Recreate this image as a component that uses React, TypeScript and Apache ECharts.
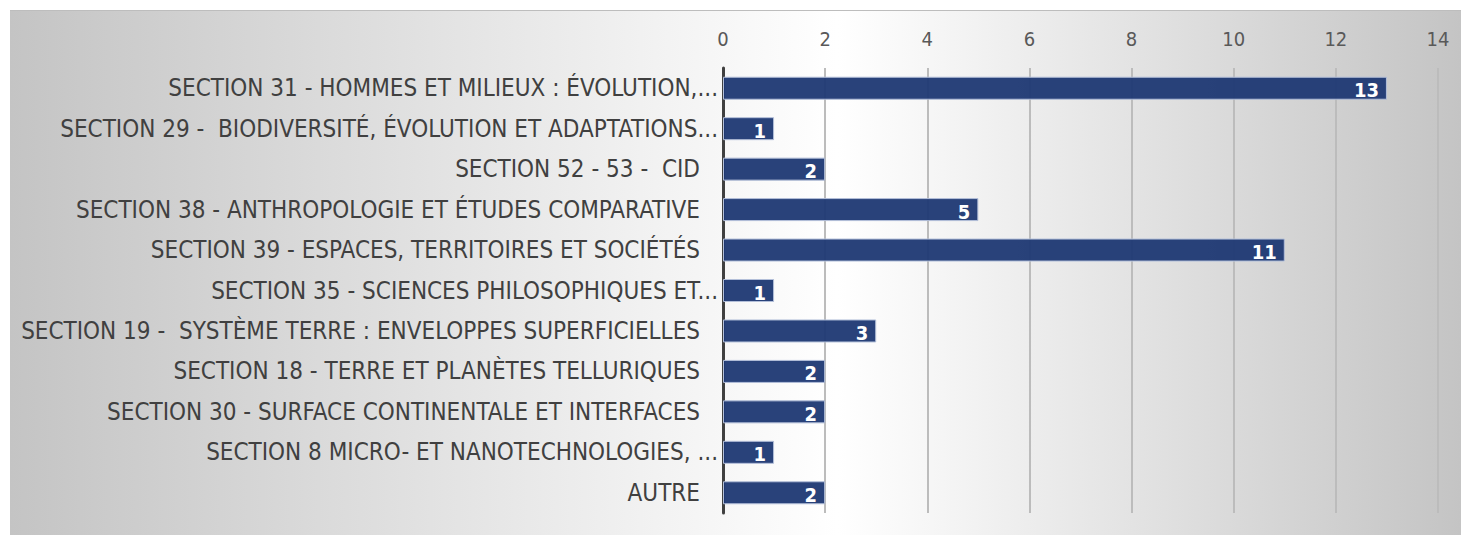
import React, { useEffect, useRef } from "react";
import * as echarts from "echarts";

const categories = [
  "SECTION 31 - HOMMES ET MILIEUX : ÉVOLUTION,...",
  "SECTION 29 -  BIODIVERSITÉ, ÉVOLUTION ET ADAPTATIONS...",
  "SECTION 52 - 53 -  CID",
  "SECTION 38 - ANTHROPOLOGIE ET ÉTUDES COMPARATIVE",
  "SECTION 39 - ESPACES, TERRITOIRES ET SOCIÉTÉS",
  "SECTION 35 - SCIENCES PHILOSOPHIQUES ET...",
  "SECTION 19 -  SYSTÈME TERRE : ENVELOPPES SUPERFICIELLES",
  "SECTION 18 - TERRE ET PLANÈTES TELLURIQUES",
  "SECTION 30 - SURFACE CONTINENTALE ET INTERFACES",
  "SECTION 8 MICRO- ET NANOTECHNOLOGIES, ...",
  "AUTRE",
];
const values = [13, 1, 2, 5, 11, 1, 3, 2, 2, 1, 2];
const axisMin = 0;
const axisMax = 14;
const axisInterval = 2;

const FONT = "'DejaVu Sans Condensed', 'Liberation Sans Narrow', sans-serif";

export default function App() {
  const ref = useRef<HTMLDivElement>(null);
  useEffect(() => {
    if (!ref.current) return;
    const chart = echarts.init(ref.current, null, { renderer: "svg" });
    chart.setOption({
      animation: false,
      graphic: [
        {
          type: "rect",
          z: -10,
          silent: true,
          shape: { x: 10, y: 10, width: 1451, height: 525 },
          style: {
            fill: new echarts.graphic.LinearGradient(0, 0, 1, 0, [
              { offset: 0, color: "#c4c4c4" },
              { offset: 0.57, color: "#ffffff" },
              { offset: 1, color: "#c4c4c4" },
            ]),
          },
        },
        {
          type: "line",
          z: -9,
          silent: true,
          shape: { x1: 10, y1: 10.5, x2: 1461, y2: 10.5 },
          style: { stroke: "#bdbdbd", lineWidth: 1 },
        },
      ],
      grid: { left: 723, right: 23, top: 68, bottom: 22, containLabel: false },
      xAxis: {
        type: "value",
        position: "top",
        min: axisMin,
        max: axisMax,
        interval: axisInterval,
        axisLine: { show: false },
        axisTick: { show: false },
        axisLabel: { color: "#595959", fontSize: 20, fontFamily: FONT, margin: 19 },
        splitLine: { show: true, lineStyle: { color: "#bcbcbc", width: 2 } },
      },
      yAxis: {
        type: "category",
        inverse: true,
        data: categories,
        axisLine: { show: true, lineStyle: { color: "#404040", width: 3 } },
        axisTick: { show: false },
        axisLabel: {
          color: "#404040",
          fontSize: 24,
          fontFamily: FONT,
          margin: 5,
          formatter: (v: string) => (v.endsWith("...") ? `{e|${v}}` : `{p|${v}}`),
          rich: {
            e: { color: "#404040", fontSize: 24, fontFamily: FONT },
            p: { color: "#404040", fontSize: 24, fontFamily: FONT, padding: [0, 18, 0, 0] },
          },
        },
      },
      series: [
        {
          type: "bar",
          data: values,
          barWidth: 23,
          itemStyle: {
            color: "rgba(30,56,115,0.95)",
            borderColor: "#b3bfd9",
            borderWidth: 1,
          },
          label: {
            show: true,
            position: "insideRight",
            color: "#ffffff",
            fontWeight: "bold",
            fontSize: 20,
            fontFamily: FONT,
            offset: [-3, 2],
          },
        },
      ],
    });
    return () => chart.dispose();
  }, []);
  return (
    <div
      ref={ref}
      style={{ position: "absolute", left: 0, top: 0, width: 1461, height: 535 }}
    />
  );
}
